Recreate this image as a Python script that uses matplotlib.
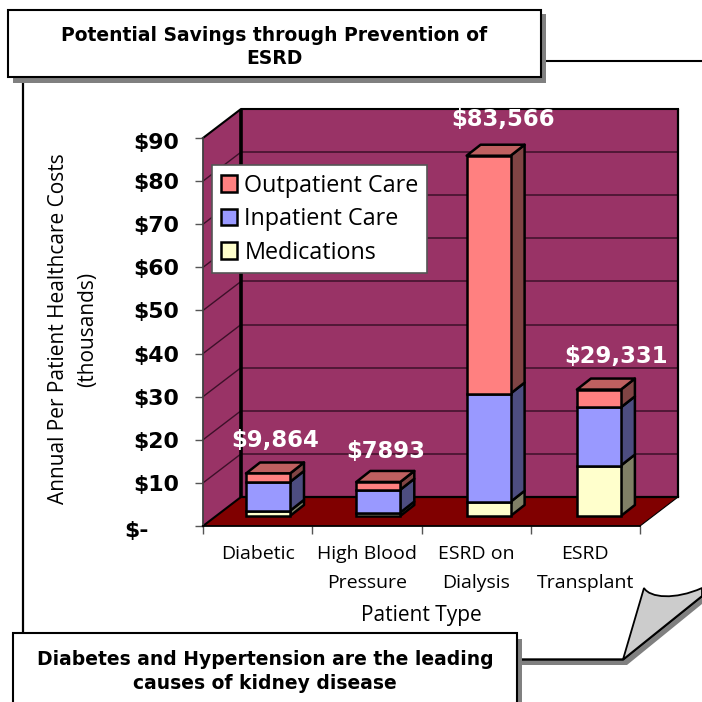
import matplotlib
matplotlib.use("Agg")
import matplotlib.pyplot as plt
from matplotlib.patches import Patch, Polygon, Rectangle, PathPatch
from matplotlib.path import Path
from matplotlib.transforms import ScaledTranslation

# ---- data ----
categories = ["Diabetic", "High Blood\nPressure", "ESRD on\nDialysis", "ESRD\nTransplant"]
medications = [1.2, 0.8, 3.3, 11.7]
inpatient = [6.7, 5.3, 25.1, 13.5]
outpatient = [1.96, 1.8, 55.17, 4.13]
bar_labels = ["$9,864", "$7893", "$83,566", "$29,331"]
y_values = [0, 10, 20, 30, 40, 50, 60, 70, 80, 90]
y_labels = ["$-", "$10", "$20", "$30", "$40", "$50", "$60", "$70", "$80", "$90"]
legend_names = ["Outpatient Care", "Inpatient Care", "Medications"]
title_top = "Potential Savings through Prevention of\nESRD"
title_bottom = "Diabetes and Hypertension are the leading\ncauses of kidney disease"
x_title = "Patient Type"
y_title = "Annual Per Patient Healthcare Costs\n(thousands)"

# ---- style ----
SIZE = 702
REG = "Open Sans"
C_WALL, C_FLOOR = "#993366", "#800000"
C_GRID = "#3d1029"
FRONT = {"o": "#FF8080", "i": "#9999FF", "m": "#FFFFCC"}
SIDE = {"o": "#804444", "i": "#4D4D80", "m": "#808066"}
C_TOP = "#BF6060"

fig = plt.figure(figsize=(SIZE / 100, SIZE / 100), dpi=100, facecolor="white")

# overlay for the slide decoration, in pixels
deco = fig.add_axes([0, 0, 1, 1], zorder=0)
deco.set_xlim(0, SIZE)
deco.set_ylim(SIZE, 0)
deco.axis("off")
GRAY = "#808080"
# page outline
deco.plot([23, 23], [80, 640], color="black", lw=1.6)
deco.plot([541, 702], [61, 61], color="black", lw=1.5)
# bottom line and page curl shadow
deco.add_patch(Polygon([(522, 660), (622, 660), (702, 592), (702, 604), (627, 665), (522, 665)], fc=GRAY, ec="none"))
deco.plot([522, 623, 702], [659.5, 659.5, 596], color="black", lw=1.7)
curl = Path([(623, 659.5), (644, 588), (650, 598), (675, 600), (702, 588), (702, 596), (623, 659.5)],
            [Path.MOVETO, Path.LINETO, Path.CURVE4, Path.CURVE4, Path.CURVE4, Path.LINETO, Path.CLOSEPOLY])
deco.add_patch(PathPatch(curl, fc="#CCCCCC", ec="black", lw=1.3, zorder=3))
# title boxes
deco.add_patch(Rectangle((13, 14), 533, 69, fc=GRAY, ec="none", zorder=4))
deco.add_patch(Rectangle((8, 10), 533, 67, fc="white", ec="black", lw=1.5, zorder=5))
deco.add_patch(Rectangle((18, 639), 504, 70, fc=GRAY, ec="none", zorder=4))
deco.add_patch(Rectangle((13, 633), 504, 75, fc="white", ec="black", lw=1.5, zorder=5))
deco.text(274, 47, title_top, ha="center", va="center", fontsize=13.5, fontweight="bold",
          family="DejaVu Sans", linespacing=1.32, zorder=6)
deco.text(265, 671.5, title_bottom, ha="center", va="center", fontsize=13.5, fontweight="bold",
          family="DejaVu Sans", linespacing=1.3, zorder=6)

# chart axes: front plane of the 3D box
X0, X1, Y0, Y1 = 203, 640, 526, 138
ax = fig.add_axes([X0 / SIZE, (SIZE - Y0) / SIZE, (X1 - X0) / SIZE, (Y0 - Y1) / SIZE], zorder=1)
ax.patch.set_alpha(0)
ax.set_xlim(0, 4)
ax.set_ylim(0, 90)
PX_X = (X1 - X0) / 4
PX_Y = (Y0 - Y1) / 90
DX, DY = 38 / PX_X, 29 / PX_Y       # depth of the box
BDX, BDY = 14 / PX_X, 11 / PX_Y     # depth of each bar
FY = 10 / PX_Y                      # shift of the bars behind the front plane
BW = 44 / PX_X
BX = 43 / PX_X
STEP = 110.3 / PX_X


def poly(pts, **kw):
    kw.setdefault("clip_on", False)
    ax.add_patch(Polygon(pts, **kw))


top = y_values[-1]
poly([(0, 0), (DX, DY), (DX, top + DY), (0, top)], fc=C_WALL, ec="none", zorder=1)
poly([(DX, DY), (4 + DX, DY), (4 + DX, top + DY), (DX, top + DY)], fc=C_WALL, ec="none", zorder=1)
poly([(0, 0), (4, 0), (4 + DX, DY), (DX, DY)], fc=C_FLOOR, ec="none", zorder=2)
for v in y_values[1:-1]:
    ax.plot([DX, 4 + DX], [v + DY, v + DY], color=C_GRID, lw=1.1, clip_on=False, zorder=1.5)
    ax.plot([0, DX], [v, v + DY], color=C_GRID, lw=1.0, clip_on=False, zorder=1.5)
# wall edges
ax.plot([DX, DX], [DY, top + DY], color="black", lw=2.6, clip_on=False, zorder=1.6, solid_capstyle="butt")
ax.plot([4 + DX, 4 + DX], [DY, top + DY], color="black", lw=1.6, clip_on=False, zorder=1.6, solid_capstyle="butt")
ax.plot([0, DX, 4 + DX], [top, top + DY, top + DY], color="black", lw=1.5, clip_on=False, zorder=1.6)
ax.plot([DX, 4 + DX], [DY, DY], color="black", lw=1.6, clip_on=False, zorder=2.1)
ax.plot([4, 4 + DX], [0, DY], color="black", lw=0.8, clip_on=False, zorder=2.1)
ax.plot([0, DX], [0, DY], color="black", lw=1.5, clip_on=False, zorder=2.1)

# stacked bars
for i in range(4):
    left = i * STEP + BX
    base = FY
    for key, vals in (("m", medications), ("i", inpatient), ("o", outpatient)):
        h = vals[i]
        poly([(left + BW, base), (left + BW + BDX, base + BDY), (left + BW + BDX, base + h + BDY), (left + BW, base + h)],
             fc=SIDE[key], ec="black", lw=1.8, joinstyle="round", zorder=3)
        ax.bar(left, h, BW, bottom=base, align="edge", color=FRONT[key], edgecolor="black", lw=1.8,
               clip_on=False, zorder=3.1)
        base += h
    poly([(left, base), (left + BDX, base + BDY), (left + BW + BDX, base + BDY), (left + BW, base)],
         fc=C_TOP, ec="black", lw=1.8, joinstyle="round", zorder=3)

# bar total labels
label_shift = [(7, 33), (7, 30), (14, 36), (17, 33)]
for i, s in enumerate(bar_labels):
    total = medications[i] + inpatient[i] + outpatient[i] + FY
    ax.annotate(s, xy=(i * STEP + BX + BW / 2, total), xytext=(label_shift[i][0] * 0.72, label_shift[i][1] * 0.72),
                textcoords="offset points", ha="center", va="center", color="white", fontsize=16.4,
                fontweight="bold", family="DejaVu Sans", annotation_clip=False, zorder=5)

# axes furniture
for s in ("top", "right"):
    ax.spines[s].set_visible(False)
ax.spines["left"].set_color("#404040")
ax.spines["left"].set_linewidth(1.3)
ax.spines["left"].set_zorder(2.2)
ax.spines["bottom"].set_color("black")
ax.spines["bottom"].set_linewidth(1.3)
ax.spines["bottom"].set_zorder(2.2)
ax.set_yticks(y_values)
ax.set_yticklabels(y_labels, fontsize=15.8, fontweight="bold", family="DejaVu Sans")
ax.tick_params(axis="y", length=6, width=1, color="#555555", pad=11)
ax.set_xticks(range(5))
ax.set_xticklabels([])
ax.set_xticks([i + 0.5 for i in range(4)], categories, minor=True)
ax.tick_params(axis="x", which="major", length=6, width=1, color="#555555")
ax.tick_params(axis="x", which="minor", length=0, pad=14, labelsize=14)
for lab in ax.get_xticklabels(minor=True):
    lab.set_family(REG)
    lab.set_linespacing(1.72)
for lab, t in zip(ax.get_yticklabels(), y_labels):
    off = (-31 if t == "$-" else 0, -3 if t in ("$-", "$90") else 0)
    lab.set_transform(lab.get_transform() + ScaledTranslation(off[0] / 100, off[1] / 100, fig.dpi_scale_trans))

deco.text(421, 616, x_title, ha="center", va="center", fontsize=15, family=REG)
deco.text(73, 329, y_title, ha="center", va="center", rotation=90, fontsize=15, family=REG,
          linespacing=1.55)

handles = [Patch(fc=FRONT[k], ec="black", lw=1.8) for k in "oim"]
leg = ax.legend(handles, legend_names, loc="upper left", bbox_to_anchor=((212 - X0) / (X1 - X0), (Y0 - 165) / (Y0 - Y1)),
                prop={"family": REG, "size": 16.8}, frameon=True, fancybox=False, framealpha=1,
                edgecolor="#555555", borderaxespad=0, handlelength=0.72, handleheight=0.72, handletextpad=0.3,
                labelspacing=0.41, borderpad=0.37)
leg.set_zorder(6)
leg.get_frame().set_linewidth(1.2)

fig.savefig("out.png", dpi=100)
